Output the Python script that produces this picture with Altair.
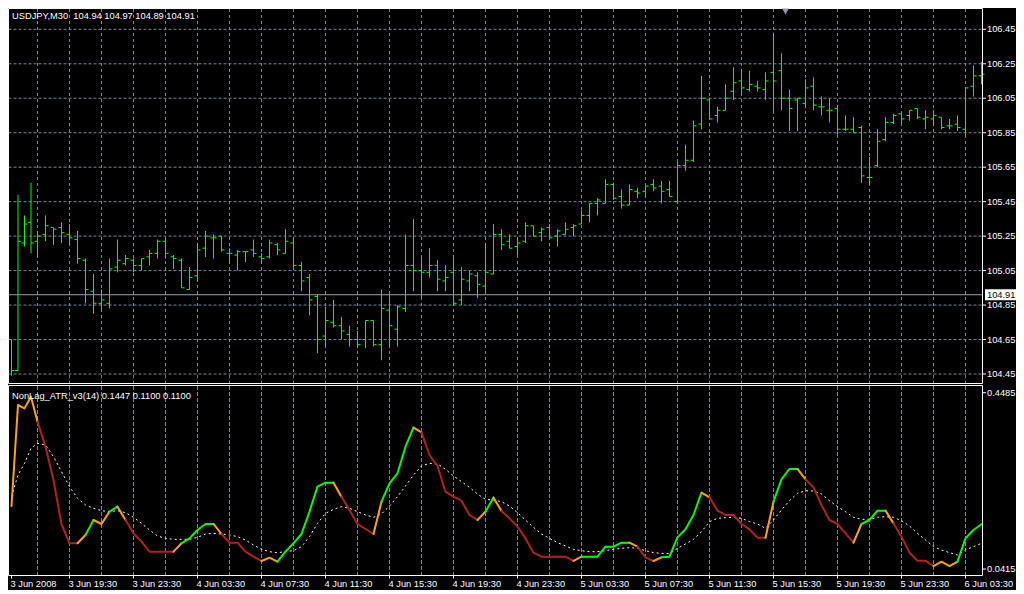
import altair as alt
import pandas as pd

# ---------------- data ----------------
opens = [104.65, 104.47, 105.21, 105.33, 105.22, 105.26, 105.30, 105.30, 105.26, 105.23,
         105.11, 104.93, 104.86, 104.86, 105.07, 105.09, 105.11, 105.08, 105.13, 105.15,
         105.22, 105.13, 105.11, 104.94, 105.02, 105.18, 105.24, 105.25, 105.15, 105.14,
         105.16, 105.17, 105.13, 105.13, 105.20, 105.15, 105.21, 105.08, 105.01, 104.90,
         104.67, 104.75, 104.73, 104.68, 104.65, 104.65, 104.76, 104.62, 104.82, 104.71,
         104.83, 105.08, 105.05, 105.04, 105.08, 104.99, 105.04, 104.88, 104.99, 105.02,
         104.96, 105.03, 105.26, 105.22, 105.19, 105.22, 105.31, 105.27, 105.30, 105.25,
         105.26, 105.30, 105.32, 105.37, 105.44, 105.44, 105.55, 105.48, 105.43, 105.51,
         105.51, 105.55, 105.54, 105.52, 105.45, 105.66, 105.69, 105.90, 106.04, 105.95,
         105.98, 106.09, 106.15, 106.10, 106.12, 106.10, 106.20, 106.21, 106.05, 106.04,
         106.02, 106.12, 106.00, 105.98, 105.99, 105.87, 105.87, 105.88, 105.59, 105.66,
         105.81, 105.91, 105.96, 105.95, 105.99, 105.93, 105.93, 105.94, 105.89, 105.90,
         105.87, 106.12, 106.18]
highs = [104.65, 105.49, 105.37, 105.56, 105.28, 105.37, 105.30, 105.33, 105.32, 105.28,
         105.12, 105.03, 104.94, 105.12, 105.23, 105.14, 105.12, 105.12, 105.17, 105.23,
         105.24, 105.14, 105.12, 105.07, 105.21, 105.28, 105.26, 105.25, 105.18, 105.17,
         105.16, 105.23, 105.15, 105.23, 105.21, 105.29, 105.24, 105.10, 105.03, 104.91,
         104.84, 104.88, 104.78, 104.73, 104.70, 104.76, 104.76, 104.94, 104.92, 104.85,
         105.26, 105.35, 105.13, 105.18, 105.11, 105.08, 105.14, 105.07, 105.05, 105.04,
         105.21, 105.32, 105.29, 105.26, 105.24, 105.33, 105.31, 105.30, 105.32, 105.29,
         105.33, 105.32, 105.40, 105.44, 105.47, 105.58, 105.56, 105.52, 105.55, 105.53,
         105.54, 105.58, 105.57, 105.57, 105.68, 105.78, 105.92, 106.18, 106.05, 106.00,
         106.13, 106.23, 106.22, 106.21, 106.15, 106.20, 106.43, 106.31, 106.10, 106.05,
         106.16, 106.17, 106.06, 106.05, 106.01, 105.95, 105.94, 105.89, 105.71, 105.87,
         105.94, 105.96, 105.96, 105.98, 105.99, 105.98, 105.98, 105.94, 105.93, 105.95,
         106.11, 106.24, 106.26]
lows = [104.44, 104.47, 105.19, 105.15, 105.13, 105.22, 105.20, 105.21, 105.20, 105.09,
        104.86, 104.80, 104.81, 104.83, 105.04, 105.08, 105.04, 105.05, 105.08, 105.12,
        105.12, 105.06, 104.95, 104.94, 104.99, 105.13, 105.12, 105.16, 105.09, 105.05,
        105.10, 105.13, 105.09, 105.12, 105.14, 105.15, 105.06, 104.93, 104.79, 104.57,
        104.61, 104.72, 104.65, 104.61, 104.60, 104.60, 104.61, 104.53, 104.61, 104.61,
        104.81, 104.93, 104.89, 105.01, 104.93, 104.93, 104.85, 104.85, 104.93, 104.89,
        104.92, 105.03, 105.17, 105.18, 105.14, 105.21, 105.25, 105.22, 105.23, 105.19,
        105.26, 105.25, 105.32, 105.33, 105.37, 105.44, 105.46, 105.41, 105.43, 105.47,
        105.48, 105.51, 105.44, 105.48, 105.44, 105.63, 105.68, 105.87, 105.93, 105.91,
        105.98, 106.04, 106.07, 106.09, 106.09, 106.04, 105.97, 105.98, 105.86, 105.86,
        106.00, 105.98, 105.95, 105.91, 105.84, 105.86, 105.85, 105.56, 105.55, 105.65,
        105.80, 105.90, 105.90, 105.92, 105.93, 105.87, 105.89, 105.87, 105.87, 105.86,
        105.83, 106.06, 106.13]
closes = [104.47, 105.22, 105.32, 105.21, 105.25, 105.31, 105.29, 105.27, 105.24, 105.12,
          104.94, 104.86, 104.88, 105.06, 105.11, 105.12, 105.08, 105.12, 105.15, 105.22,
          105.15, 105.12, 104.95, 105.01, 105.17, 105.25, 105.24, 105.17, 105.15, 105.16,
          105.16, 105.15, 105.12, 105.21, 105.17, 105.22, 105.08, 104.99, 104.88, 104.65,
          104.76, 104.73, 104.70, 104.65, 104.62, 104.76, 104.62, 104.83, 104.73, 104.84,
          105.08, 105.05, 105.04, 105.08, 105.00, 105.01, 104.86, 105.00, 105.03, 104.97,
          105.04, 105.26, 105.20, 105.18, 105.21, 105.31, 105.25, 105.29, 105.24, 105.28,
          105.29, 105.31, 105.37, 105.44, 105.46, 105.55, 105.47, 105.43, 105.52, 105.50,
          105.54, 105.53, 105.51, 105.48, 105.66, 105.69, 105.89, 106.05, 105.93, 105.98,
          106.05, 106.14, 106.11, 106.13, 106.11, 106.15, 106.15, 106.05, 105.99, 106.05,
          106.11, 106.01, 106.00, 105.98, 105.87, 105.87, 105.85, 105.60, 105.59, 105.80,
          105.91, 105.95, 105.93, 105.98, 105.94, 105.94, 105.95, 105.88, 105.89, 105.88,
          106.11, 106.18, 106.19]

atr = [0.1870, 0.4201, 0.4124, 0.4393, 0.3816, 0.3239, 0.2470, 0.1454, 0.1008, 0.1008,
       0.1200, 0.1546, 0.1454, 0.1739, 0.1854, 0.1546, 0.1238, 0.1046, 0.0815, 0.0815,
       0.0815, 0.0815, 0.1008, 0.1123, 0.1316, 0.1454, 0.1454, 0.1223, 0.1023, 0.1023,
       0.0815, 0.0700, 0.0600, 0.0677, 0.0584, 0.0815, 0.1008, 0.1223, 0.1739, 0.2316,
       0.2408, 0.2408, 0.2085, 0.1777, 0.1454, 0.1338, 0.1223, 0.1969, 0.2393, 0.2624,
       0.3239, 0.3678, 0.3570, 0.3047, 0.2793, 0.2200, 0.2085, 0.1993, 0.1662, 0.1546,
       0.1739, 0.2062, 0.1754, 0.1585, 0.1393, 0.1123, 0.0792, 0.0700, 0.0700, 0.0700,
       0.0700, 0.0600, 0.0700, 0.0700, 0.0700, 0.0931, 0.0931, 0.1023, 0.1023, 0.0931,
       0.0684, 0.0600, 0.0684, 0.0700, 0.1146, 0.1331, 0.1662, 0.2177, 0.2070, 0.1762,
       0.1662, 0.1662, 0.1454, 0.1331, 0.1138, 0.1138, 0.1969, 0.2485, 0.2724, 0.2724,
       0.2485, 0.2300, 0.1893, 0.1546, 0.1454, 0.1238, 0.1023, 0.1454, 0.1546, 0.1762,
       0.1762, 0.1469, 0.1162, 0.0792, 0.0607, 0.0607, 0.0484, 0.0584, 0.0484, 0.0584,
       0.1123, 0.1316, 0.1447]

signal = [0.2085, 0.2585, 0.2854, 0.3201, 0.3316, 0.3278, 0.3008, 0.2662, 0.2316, 0.2047,
          0.1893, 0.1816, 0.1762, 0.1739, 0.1762, 0.1716, 0.1608, 0.1469, 0.1316, 0.1177,
          0.1123, 0.1100, 0.1100, 0.1100, 0.1146, 0.1223, 0.1238, 0.1223, 0.1200, 0.1162,
          0.1085, 0.0969, 0.0869, 0.0815, 0.0792, 0.0815, 0.0838, 0.0931, 0.1162, 0.1469,
          0.1700, 0.1792, 0.1854, 0.1816, 0.1739, 0.1662, 0.1608, 0.1685, 0.1869, 0.2085,
          0.2331, 0.2585, 0.2793, 0.2854, 0.2839, 0.2716, 0.2562, 0.2431, 0.2300, 0.2146,
          0.2023, 0.2008, 0.1969, 0.1869, 0.1716, 0.1546, 0.1377, 0.1223, 0.1123, 0.1023,
          0.0946, 0.0869, 0.0838, 0.0815, 0.0815, 0.0838, 0.0869, 0.0892, 0.0908, 0.0892,
          0.0838, 0.0792, 0.0777, 0.0769, 0.0892, 0.0992, 0.1100, 0.1277, 0.1508, 0.1585,
          0.1600, 0.1608, 0.1585, 0.1508, 0.1454, 0.1354, 0.1546, 0.1777, 0.1993, 0.2162,
          0.2223, 0.2216, 0.2146, 0.1993, 0.1854, 0.1739, 0.1608, 0.1562, 0.1562, 0.1608,
          0.1623, 0.1608, 0.1531, 0.1408, 0.1238, 0.1085, 0.0931, 0.0854, 0.0792, 0.0738,
          0.0854, 0.0931, 0.1008]

# colour state of each ATR segment (G = rising, O = turning, R = falling)
seg_groups = ["OOOO", "RRRRR", "O", "G", "OO", "G", "O", "RRRRRR", "O", "GGGG", "O",
              "RRRRR", "OO", "GGGGGGG", "O", "RRRR", "O", "GGGG", "O", "RRRRRRR", "O",
              "G", "O", "RRRRRRRRR", "O", "GGGGGG", "O", "RR", "O", "GGGGG", "O",
              "RRRRRRR", "O", "GGG", "O", "RRRRRR", "O", "GGG", "O", "RRRRR", "OOO", "GGG"]

price_levels = [104.45, 104.65, 104.85, 105.05, 105.25, 105.45, 105.65, 105.85, 106.05, 106.25, 106.45]
price_labels = ["104.45", "104.65", "104.85", "105.05", "105.25", "105.45", "105.65", "105.85", "106.05", "106.25", "106.45"]
current_price = [104.91]
current_label = ["104.91"]
ind_levels = [0.4485, 0.0415]
ind_labels = ["0.4485", "0.0415"]
time_idx = [0, 8, 16, 24, 32, 40, 48, 56, 64, 72, 80, 88, 96, 104, 112, 120]
time_labels = ["3 Jun 2008", "3 Jun 19:30", "3 Jun 23:30", "4 Jun 03:30", "4 Jun 07:30",
               "4 Jun 11:30", "4 Jun 15:30", "4 Jun 19:30", "4 Jun 23:30", "5 Jun 03:30",
               "5 Jun 07:30", "5 Jun 11:30", "5 Jun 15:30", "5 Jun 19:30", "5 Jun 23:30",
               "6 Jun 03:30"]
grid_idx = list(range(4, 121, 4))
shift_marker = [97.5]
main_title = "USDJPY,M30\u00a0 104.94 104.97 104.89 104.91"
ind_title = "NonLag_ATR_v3(14) 0.1447 0.1100 0.1100"

# ---------------- build ----------------
FONT = "Liberation Sans"
FS = 9.3
GRID = "#778899"

XS = alt.Scale(domain=[0, 4, 122], range=[3.5, 29.5, 973.5], nice=False, zero=False)
YP = alt.Scale(domain=[104.45, 106.45], range=[366.0, 21.3], nice=False, zero=False)
YL = alt.Scale(domain=[0.0415, 0.4485], range=[561.0, 384.7], nice=False, zero=False)

n = len(opens)
bars = pd.DataFrame({"i": list(range(n)), "o": opens, "h": highs, "l": lows, "c": closes})

codes = "".join(seg_groups)
assert len(codes) == n - 1
rows = []
start = 0
run = 0
for k in range(1, len(codes) + 1):
    if k == len(codes) or codes[k] != codes[start]:
        for i in range(start, k + 1):
            rows.append({"run": run, "i": i, "v": atr[i], "c": codes[start]})
        run += 1
        start = k
atr_df = pd.DataFrame(rows)
sig_df = pd.DataFrame({"i": list(range(n)), "v": signal})

prices_df = pd.DataFrame({"p": price_levels, "t": price_labels})
cur_df = pd.DataFrame({"p": current_price, "t": current_label})
ind_df = pd.DataFrame({"p": ind_levels, "t": ind_labels})
time_df = pd.DataFrame({"i": time_idx, "t": time_labels})
grid_df = pd.DataFrame({"i": grid_idx})
one = pd.DataFrame({"a": [0]})

x_i = alt.X("i:Q", scale=XS, axis=None)

hgrid = alt.Chart(prices_df).mark_rule(color=GRID, strokeDash=[3, 2], strokeWidth=1).encode(
    x=alt.value(0.5), x2=alt.value(974.5), y=alt.Y("p:Q", scale=YP, axis=None))
vgrid_main = alt.Chart(grid_df).mark_rule(color=GRID, strokeDash=[3, 3], strokeWidth=1).encode(
    x=x_i, y=alt.value(1), y2=alt.value(375))
vgrid_low = alt.Chart(grid_df).mark_rule(color=GRID, strokeDash=[4, 2], strokeWidth=1).encode(
    x=x_i, y=alt.value(378), y2=alt.value(567))
cur_line = alt.Chart(cur_df).mark_rule(color="#9aa0a8", strokeWidth=1).encode(
    x=alt.value(0.5), x2=alt.value(974.5), y=alt.Y("p:Q", scale=YP, axis=None))

BAR = "#00FF00"
hl = alt.Chart(bars).mark_rule(color=BAR, strokeWidth=1).encode(
    x=x_i, y=alt.Y("l:Q", scale=YP, axis=None), y2="h:Q")
op = alt.Chart(bars).mark_rule(color=BAR, strokeWidth=1, xOffset=-3).encode(
    x=x_i, x2="i:Q", y=alt.Y("o:Q", scale=YP, axis=None))
cl = alt.Chart(bars).mark_rule(color=BAR, strokeWidth=1, x2Offset=3).encode(
    x=x_i, x2="i:Q", y=alt.Y("c:Q", scale=YP, axis=None))

sig = alt.Chart(sig_df).mark_line(color="white", strokeWidth=1, strokeDash=[2, 3]).encode(
    x=x_i, y=alt.Y("v:Q", scale=YL, axis=None), order="i:Q")
atr_line = alt.Chart(atr_df).mark_line(strokeWidth=2, strokeJoin="round", strokeCap="round").encode(
    x=x_i, y=alt.Y("v:Q", scale=YL, axis=None), detail="run:N", order="i:Q",
    color=alt.Color("c:N", scale=alt.Scale(domain=["G", "O", "R"], range=["#00FF00", "#FFA500", "#B22222"]), legend=None))

txt = dict(font=FONT, fontSize=FS, align="left", baseline="middle")
price_txt = alt.Chart(prices_df).mark_text(color="white", **txt).encode(
    x=alt.value(979), y=alt.Y("p:Q", scale=YP, axis=None), text="t:N")
price_ticks = alt.Chart(prices_df).mark_rule(color="white").encode(
    x=alt.value(974.5), x2=alt.value(978), y=alt.Y("p:Q", scale=YP, axis=None))
cur_box = alt.Chart(cur_df).mark_tick(orient="horizontal", size=33, thickness=11, color="white", opacity=1).encode(
    x=alt.value(993.5), y=alt.Y("p:Q", scale=YP, axis=None))
cur_txt = alt.Chart(cur_df).mark_text(color="black", **txt).encode(
    x=alt.value(979), y=alt.Y("p:Q", scale=YP, axis=None), text="t:N")
ind_txt = alt.Chart(ind_df).mark_text(color="white", **txt).encode(
    x=alt.value(979), y=alt.Y("p:Q", scale=YL, axis=None), text="t:N")
ind_ticks = alt.Chart(ind_df).mark_rule(color="white").encode(
    x=alt.value(974.5), x2=alt.value(978), y=alt.Y("p:Q", scale=YL, axis=None))
time_txt = alt.Chart(time_df).mark_text(color="white", dx=-1, font=FONT, fontSize=FS,
                                         align="left", baseline="alphabetic").encode(
    x=x_i, y=alt.value(578.5), text="t:N")
time_ticks = alt.Chart(time_df).mark_rule(color="white").encode(
    x=x_i, y=alt.value(567.5), y2=alt.value(570.5))

title1 = alt.Chart(pd.DataFrame({"t": [main_title]})).mark_text(color="white", **txt).encode(
    x=alt.value(4), y=alt.value(8), text="t:N")
title2 = alt.Chart(pd.DataFrame({"t": [ind_title]})).mark_text(color="white", **txt).encode(
    x=alt.value(4), y=alt.value(387.5), text="t:N")
marker = alt.Chart(pd.DataFrame({"i": shift_marker})).mark_point(
    shape="triangle-down", filled=True, color="#8c9aa6", size=45, opacity=1).encode(
    x=x_i, y=alt.value(3.5))

frame_main = alt.Chart(one).mark_rect(fillOpacity=0, stroke="white", strokeWidth=1).encode(
    x=alt.value(0.5), x2=alt.value(974.5), y=alt.value(0.5), y2=alt.value(375.5))
frame_low = alt.Chart(one).mark_rect(fillOpacity=0, stroke="white", strokeWidth=1).encode(
    x=alt.value(0.5), x2=alt.value(974.5), y=alt.value(377.5), y2=alt.value(567.5))

chart = alt.layer(
    hgrid, vgrid_main, vgrid_low, cur_line, hl, op, cl, sig, atr_line,
    price_ticks, price_txt, cur_box, cur_txt, ind_ticks, ind_txt, time_ticks, time_txt,
    title1, title2, frame_main, frame_low, marker
).resolve_scale(y="independent").properties(
    width=1008, height=582, padding=0,
    autosize=alt.AutoSizeParams(type="none"),
    background="black",
).configure_view(strokeWidth=0)

chart.save("out.html", embed_options={"renderer": "svg", "actions": False})
